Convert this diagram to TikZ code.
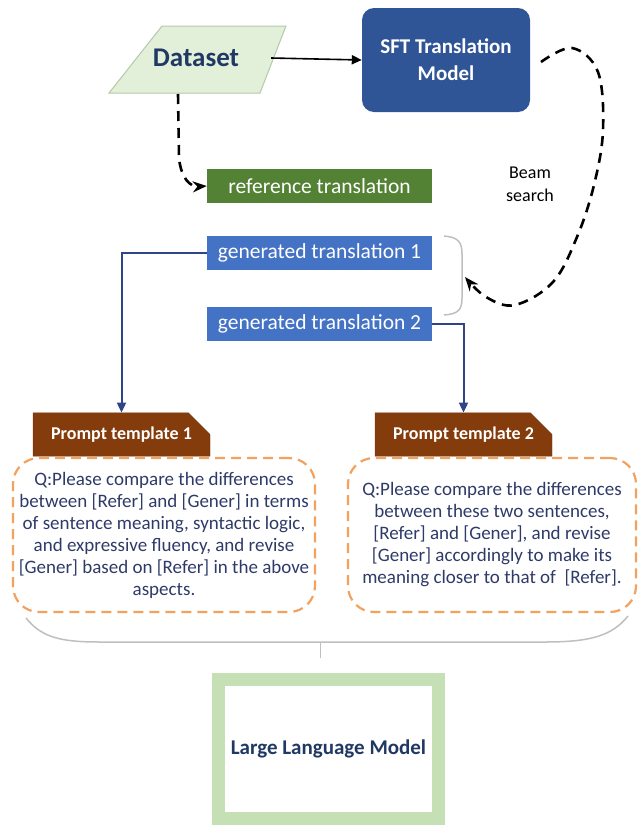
\documentclass[tikz,border=0pt]{standalone}
\usepackage{fontspec}
\setmainfont{Carlito}
\usetikzlibrary{positioning,arrows.meta,shapes.misc,calc}
\definecolor{dataGreen}{HTML}{E2EFD9}
\definecolor{dataEdge}{HTML}{B5C9A8}
\definecolor{sftBlue}{HTML}{2F5597}
\definecolor{refGreen}{HTML}{548235}
\definecolor{genBlue}{HTML}{4472C4}
\definecolor{lineNavy}{HTML}{2F4587}
\definecolor{tabBrown}{HTML}{843C0C}
\definecolor{dashOrange}{HTML}{F2A15F}
\definecolor{textNavy}{HTML}{203864}
\definecolor{promptText}{HTML}{2E3A68}
\definecolor{llmGreen}{HTML}{C5E0B4}
\definecolor{braceGrey}{HTML}{BFBFBF}

\begin{document}
\begin{tikzpicture}[x=1pt, y=-1pt,
    bar/.style={inner sep=0pt, minimum width=225pt, minimum height=34pt,
      text=white, font=\fontsize{21.5}{24}\selectfont},
    tabbox/.style={chamfered rectangle, chamfered rectangle corners=north east,
      chamfered rectangle xsep=9pt, chamfered rectangle ysep=14pt,
      fill=tabBrown, draw=tabBrown!80!black, inner sep=0pt,
      minimum width=177pt, minimum height=35pt, text=white,
      font=\bfseries\fontsize{18}{20}\selectfont},
    prompt/.style={rounded corners=26pt, draw=dashOrange, line width=2.2pt,
      dash pattern=on 10pt off 6pt, inner sep=0pt, minimum height=154pt,
      align=center, text=promptText, font=\fontsize{19}{22}\selectfont},
    navyarr/.style={-{Triangle[length=10pt,width=9pt]}, line width=2pt, color=lineNavy},
    dasharr/.style={-{Stealth[length=14pt,width=11pt]}, line width=2.6pt,
      dash pattern=on 10pt off 7pt}]
  \useasboundingbox (0,0) rectangle (639,825);

  % top row
  \draw[fill=dataGreen, draw=dataEdge, line width=1pt]
    (109,93) -- (162,26) -- (286,26) -- (260,93) -- cycle;
  \node[inner sep=0pt, minimum width=150pt, text=textNavy,
    font=\bfseries\fontsize{27}{30}\selectfont] (data) at (196,58) {Dataset};
  \node[rounded corners=12pt, fill=sftBlue, minimum width=168pt, minimum height=104pt,
    inner sep=0pt, align=center, text=white,
    font=\bfseries\fontsize{21}{27}\selectfont] (sft) at (446,60) {SFT Translation\\Model};
  \draw[-{Triangle[length=10pt,width=9pt]}, line width=1.6pt] (data.east) -- (sft.west);

  % translations
  \node[bar, fill=refGreen] (ref) at (319.5,186) {reference translation};
  \node[bar, fill=genBlue] (gen1) at (319.5,253) {generated translation 1};
  \node[bar, fill=genBlue] (gen2) at (319.5,324) {generated translation 2};
  \node[font=\fontsize{18}{23}\selectfont, align=center, inner sep=0pt] (beam) at (530,184) {Beam\\search};

  \coordinate (dsOut) at (178,94);
  \draw[dasharr] (dsOut) -- (179,158) .. controls (181,178) and (190,187) .. (ref.west);

  \draw[braceGrey, line width=1.5pt] (444,236) .. controls (458,237) and (462,242) .. (462,254)
    -- (462,298) .. controls (462,310) and (458,314) .. (444,315);
  \coordinate (genMid) at (465,277);
  \coordinate (bsOut) at (541,62);
  \draw[dasharr] plot[smooth, tension=0.6] coordinates {(bsOut) (572,48) (598,72) (603,130)
    (594,185) (577,237) (553,282) (515,305) (486,297) (genMid)};

  % prompt templates
  \node[tabbox] (tab1) at (121.5,434.5) {Prompt template 1};
  \node[tabbox] (tab2) at (463.5,434.5) {Prompt template 2};
  \draw[navyarr] (gen1.west) -| (tab1.north);
  \draw[navyarr] (gen2.east) -| (tab2.north);

  \node[prompt, minimum width=302pt] (q1) at (164,535)
    {Q:Please compare the differences\\between [Refer] and [Gener] in terms\\of sentence meaning, syntactic logic,\\and expressive fluency, and revise\\{[Gener]} based on [Refer] in the above\\aspects.};
  \node[prompt, minimum width=288pt] (q2) at (492,535)
    {Q:Please compare the differences\\between these two sentences,\\{[Refer]} and [Gener], and revise\\{[Gener]} accordingly to make its\\meaning closer to that of~~[Refer].};

  % model
  \coordinate (braceTip) at (320,658);
  \draw[braceGrey, line width=1.5pt] (26,618) .. controls (42,638) and (62,642) .. (100,642)
    -- (545,642) .. controls (590,642) and (612,636) .. (628,616);
  \draw[braceGrey, line width=1pt] (320,642) -- (braceTip);
  \node[draw=llmGreen, line width=13pt, fill=white, minimum width=220pt, minimum height=139pt,
    inner sep=0pt, text=textNavy, font=\bfseries\fontsize{21}{25}\selectfont] (llm) at (328.5,749)
    {Large Language Model};
\end{tikzpicture}
\end{document}
